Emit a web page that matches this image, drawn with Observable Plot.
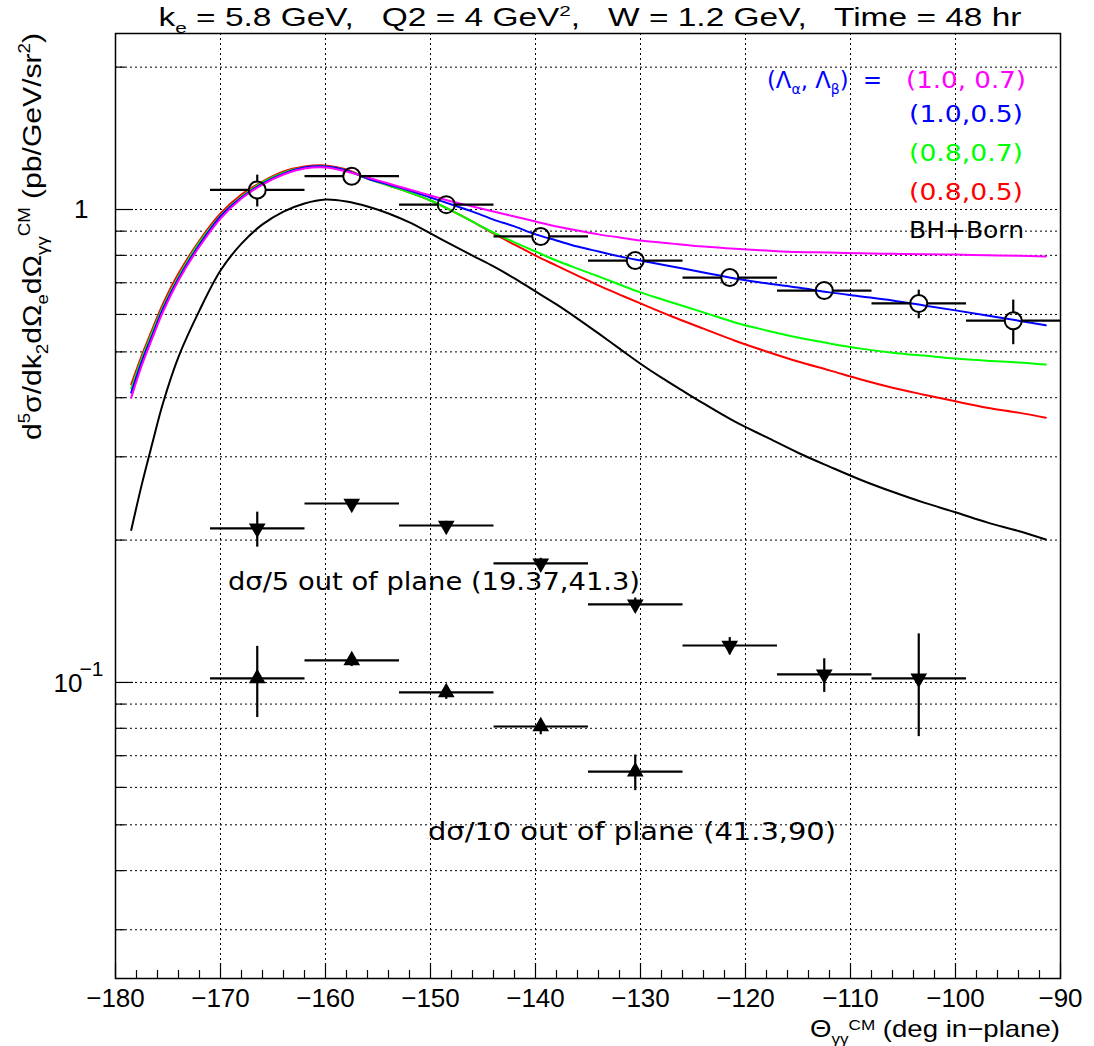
<!DOCTYPE html>
<html><head><meta charset="utf-8">
<script src="https://cdn.jsdelivr.net/npm/d3@7"></script>
<script src="https://cdn.jsdelivr.net/npm/@observablehq/plot@0.6"></script>
<style>body{margin:0;background:#fff}#chart{width:1094px;height:1046px}</style>
</head><body><div id="chart"></div>
<script>
// ---------- data ----------
const colX = [-178.5,-177.5,-176.5,-175.5,-174,-172,-170,-168,-166,-164,-162,-160,-158,-156,-154,-152,-150,-148,-146,-144,-142,-140,-138,-136,-134,-132,-130,-127,-124,-121,-118,-115,-112,-109,-106,-103,-100,-97,-94,-91.4];
const magentaY = [0.400,0.468,0.534,0.606,0.708,0.835,0.957,1.055,1.129,1.186,1.221,1.227,1.203,1.169,1.135,1.102,1.071,1.040,1.015,0.990,0.967,0.943,0.921,0.903,0.886,0.873,0.860,0.847,0.835,0.826,0.819,0.813,0.811,0.808,0.806,0.804,0.803,0.800,0.798,0.796];
const blueY = [0.410,0.477,0.542,0.615,0.715,0.843,0.967,1.060,1.135,1.191,1.227,1.233,1.209,1.163,1.129,1.097,1.060,1.025,0.990,0.952,0.921,0.886,0.860,0.835,0.815,0.796,0.780,0.758,0.736,0.715,0.698,0.684,0.668,0.655,0.642,0.627,0.612,0.597,0.582,0.569];
const greenY = [0.418,0.484,0.550,0.621,0.722,0.852,0.971,1.065,1.141,1.197,1.227,1.233,1.209,1.163,1.124,1.086,1.045,0.995,0.943,0.894,0.852,0.815,0.780,0.750,0.722,0.694,0.668,0.636,0.606,0.577,0.555,0.536,0.521,0.508,0.498,0.491,0.484,0.479,0.475,0.470];
const redY = [0.427,0.491,0.558,0.630,0.732,0.860,0.981,1.076,1.146,1.203,1.233,1.239,1.215,1.163,1.124,1.086,1.045,0.995,0.943,0.890,0.843,0.799,0.761,0.725,0.691,0.661,0.633,0.594,0.560,0.528,0.501,0.477,0.457,0.437,0.420,0.406,0.393,0.381,0.372,0.363];
const blackX = [-178.5,-177.5,-176.5,-175.5,-174,-172,-170,-168,-166,-164,-162,-160,-158,-156,-154,-152,-150,-148,-146,-144,-142,-140,-138,-136,-134,-132,-130,-128,-126,-124,-121,-118,-115,-112,-109,-106,-103,-100,-97,-94,-91.4];
const blackY = [0.210,0.262,0.320,0.388,0.488,0.612,0.743,0.847,0.930,0.990,1.030,1.050,1.040,1.015,0.981,0.939,0.890,0.843,0.799,0.758,0.715,0.671,0.630,0.588,0.547,0.508,0.472,0.441,0.414,0.389,0.356,0.330,0.306,0.286,0.268,0.253,0.240,0.229,0.218,0.209,0.2005];

const inX = [-166.5,-157.5,-148.5,-139.5,-130.5,-121.5,-112.5,-103.5,-94.5];
const inY = [1.100,1.176,1.024,0.877,0.780,0.718,0.674,0.633,0.582];
const inErr = [0.085,0.030,0.025,0.020,0.020,0.020,0.020,0.044,0.063];

const dnX = [-166.5,-157.5,-148.5,-139.5,-130.5,-121.5,-112.5,-103.5];
const dnY = [0.2117,0.239,0.2147,0.1785,0.1462,0.1197,0.104,0.102];
const dnErr = [0.018,0.005,0.005,0.005,0.005,0.005,0.0085,0.025];

const upX = [-166.5,-157.5,-148.5,-139.5,-130.5];
const upY = [0.102,0.1113,0.0953,0.0807,0.0648];
const upErr = [0.0175,0.003,0.003,0.003,0.0056];

const binHalf = 4.5;

const xMajor = [-180,-170,-160,-150,-140,-130,-120,-110,-100,-90];
const xMinor = d3.range(-178,-90,2);
const xGrid = [-170,-160,-150,-140,-130,-120,-110,-100];
const yMajor = [0.1, 1];
const yMinor = [0.03,0.04,0.05,0.06,0.07,0.08,0.09,0.2,0.3,0.4,0.5,0.6,0.7,0.8,0.9,2];
const yGrid = [0.03,0.04,0.05,0.06,0.07,0.08,0.09,0.1,0.2,0.3,0.4,0.5,0.6,0.7,0.8,0.9,1,2];

const seriesLabels = ["(1.0, 0.7)","(1.0,0.5)","(0.8,0.7)","(0.8,0.5)","BH+Born"];
const seriesColors = ["#ff00ff","#0000ff","#00ff00","#ff0000","#000000"];

// ---------- build ----------
const pts = (xs, ys) => xs.map((x,i)=>({x, y: ys[i]}));
const W=1094, H=1046, mL=115, mR=34, mT=33, mB=68;
const fw = W-mL-mR, fh = H-mT-mB;
const gapX = 0.81, gapY = Math.pow(10, 8.5/473);

const inPts = inX.map((x,i)=>({x, y: inY[i], e: inErr[i]}));
const dnPts = dnX.map((x,i)=>({x, y: dnY[i], e: dnErr[i]}));
const upPts = upX.map((x,i)=>({x, y: upY[i], e: upErr[i]}));

const lineOpt = (c)=>({x:"x", y:"y", stroke:c, strokeWidth:2, curve:"catmull-rom"});
const ebW = 2.2;

const plot = Plot.plot({
  width: W, height: H,
  marginLeft: mL, marginRight: mR, marginTop: mT, marginBottom: mB,
  x: {domain: [-180, -90], axis: null},
  y: {type: "log", domain: [0.02366, 2.356], axis: null},
  style: {background: "white", fontFamily: "'Liberation Sans', Arial, sans-serif"},
  marks: [
    Plot.ruleX(xGrid, {x: d=>d, stroke: "black", strokeWidth: 1, strokeDasharray: "2,3"}),
    Plot.ruleY(yGrid, {y: d=>d, stroke: "black", strokeWidth: 1, strokeDasharray: "2,3"}),
    Plot.line(pts(blackX, blackY), lineOpt("#000000")),
    Plot.line(pts(colX, redY), lineOpt("#ff0000")),
    Plot.line(pts(colX, greenY), lineOpt("#00ff00")),
    Plot.line(pts(colX, blueY), lineOpt("#0000ff")),
    Plot.line(pts(colX, magentaY), lineOpt("#ff00ff")),
    // in-plane error bars with gaps around hollow circles
    Plot.link(inPts, {x1: d=>d.x-binHalf, x2: d=>d.x-gapX, y1:"y", y2:"y", stroke:"black", strokeWidth: ebW}),
    Plot.link(inPts, {x1: d=>d.x+gapX, x2: d=>d.x+binHalf, y1:"y", y2:"y", stroke:"black", strokeWidth: ebW}),
    Plot.link(inPts.filter(d=>d.y+d.e > d.y*gapY), {x1:"x", x2:"x", y1: d=>d.y*gapY, y2: d=>d.y+d.e, stroke:"black", strokeWidth: ebW}),
    Plot.link(inPts.filter(d=>d.y-d.e < d.y/gapY), {x1:"x", x2:"x", y1: d=>d.y-d.e, y2: d=>d.y/gapY, stroke:"black", strokeWidth: ebW}),
    Plot.dot(inPts, {x:"x", y:"y", r: 8.5, stroke:"black", strokeWidth: 2, fill: "none"}),
    // out-of-plane
    Plot.link(dnPts, {x1: d=>d.x-binHalf, x2: d=>d.x+binHalf, y1:"y", y2:"y", stroke:"black", strokeWidth: ebW}),
    Plot.link(dnPts, {x1:"x", x2:"x", y1: d=>d.y-d.e, y2: d=>d.y+d.e, stroke:"black", strokeWidth: ebW}),
    Plot.dot(dnPts, {x:"x", y:"y", r: 6.2, symbol:"triangle", rotate: 180, fill:"black", stroke:"none"}),
    Plot.link(upPts, {x1: d=>d.x-binHalf, x2: d=>d.x+binHalf, y1:"y", y2:"y", stroke:"black", strokeWidth: ebW}),
    Plot.link(upPts, {x1:"x", x2:"x", y1: d=>d.y-d.e, y2: d=>d.y+d.e, stroke:"black", strokeWidth: ebW}),
    Plot.dot(upPts, {x:"x", y:"y", r: 6.2, symbol:"triangle", fill:"black", stroke:"none"}),
    // ticks
    Plot.ruleX(xMinor.filter(v=>!xMajor.includes(v)), {x: d=>d, insetTop: fh-8, stroke:"black", strokeWidth: 1.2}),
    Plot.ruleX(xMajor, {x: d=>d, insetTop: fh-15, stroke:"black", strokeWidth: 1.2}),
    Plot.ruleY(yMinor, {y: d=>d, insetRight: fw-10, stroke:"black", strokeWidth: 1.2}),
    Plot.ruleY(yMajor, {y: d=>d, insetRight: fw-18, stroke:"black", strokeWidth: 1.2}),
    Plot.frame({stroke: "black", strokeWidth: 1.5}),
    // tick labels
    Plot.text(xMajor, {x: d=>d, frameAnchor: "bottom", dy: 28, text: d => "\u2212" + Math.abs(d), fontSize: 26, fill: "black"}),
    Plot.text([1], {y: d=>d, frameAnchor: "left", dx: -27, dy: 0, textAnchor: "end", text: d=>"1", fontSize: 26, fill:"black"}),
    Plot.text([0.1], {y: d=>d, frameAnchor: "left", dx: -33, dy: 1, textAnchor: "end", text: d=>"10", fontSize: 26, fill:"black"}),
    Plot.text([0.1], {y: d=>d, frameAnchor: "left", dx: -12, dy: -13, textAnchor: "end", text: d=>"\u22121", fontSize: 21, fill:"black"})
  ]
});
document.getElementById("chart").appendChild(plot);

// ---------- rich text ----------
const svg = d3.select(plot);
function rich(x, y, parts, o) {
  const t = svg.append("text").attr("x", x).attr("y", y)
    .attr("font-family", o.font).attr("font-size", o.size).attr("fill", o.fill || "black")
    .attr("text-anchor", o.anchor || "start").style("white-space", "pre");
  if (o.rotate) t.attr("transform", `rotate(${o.rotate},${x},${y})`);
  if (o.len) t.attr("textLength", o.len).attr("lengthAdjust", "spacingAndGlyphs");
  const supK = o.supK || 0.42;
  let cur = 0;
  for (const p of parts) {
    const [s, kind, col] = Array.isArray(p) ? p : [p, "n"];
    const target = kind === "sub" ? o.size*0.28 : kind === "sup" ? -o.size*supK : 0;
    const ts = t.append("tspan").text(s).attr("dy", target - cur);
    if (kind !== "n") ts.attr("font-size", o.size*0.62);
    if (col) ts.attr("fill", col);
    cur = target;
  }
  return t;
}
const helv = "'Liberation Sans', Arial, sans-serif";
const soft = "'DejaVu Sans', sans-serif";

rich(590, 26, ["k", ["e","sub"], " = 5.8 GeV,   Q2 = 4 GeV", ["2","sup"], ",   W = 1.2 GeV,   Time = 48 hr"],
  {font: helv, size: 25, anchor: "middle", len: 863});
rich(41, 33, ["d", ["5","sup"], "\u03c3/dk", ["2","sub"], "d\u03a9", ["e","sub"], "d\u03a9", ["\u03b3\u03b3","sub"], ["CM","sup"], " (pb/GeV/sr", ["2","sup"], ")"],
  {font: helv, size: 26, anchor: "end", rotate: -90, len: 407});
rich(1060, 1037, ["\u0398", ["\u03b3\u03b3","sub"], ["CM","sup"], " (deg in\u2212plane)"],
  {font: helv, size: 24, anchor: "end", len: 250, supK: 0.3});

// legend
rich(767, 88, ["(\u039b", ["\u03b1","sub"], ", \u039b", ["\u03b2","sub"], ")  ="], {font: soft, size: 23, fill: "#0000ff", len: 115});
const legBase = [88, 122, 161, 200, 238];
const legLen = [120, 114, 114, 114, 115];
seriesLabels.forEach((s,i)=> rich(i===0?906:909, legBase[i], [s], {font: soft, size: 23, fill: seriesColors[i], len: legLen[i]}));

// annotations
rich(228, 590, ["d\u03c3/5 out of plane (19.37,41.3)"], {font: soft, size: 24, len: 412});
rich(428, 840, ["d\u03c3/10 out of plane (41.3,90)"], {font: soft, size: 24, len: 408});
</script></body></html>
